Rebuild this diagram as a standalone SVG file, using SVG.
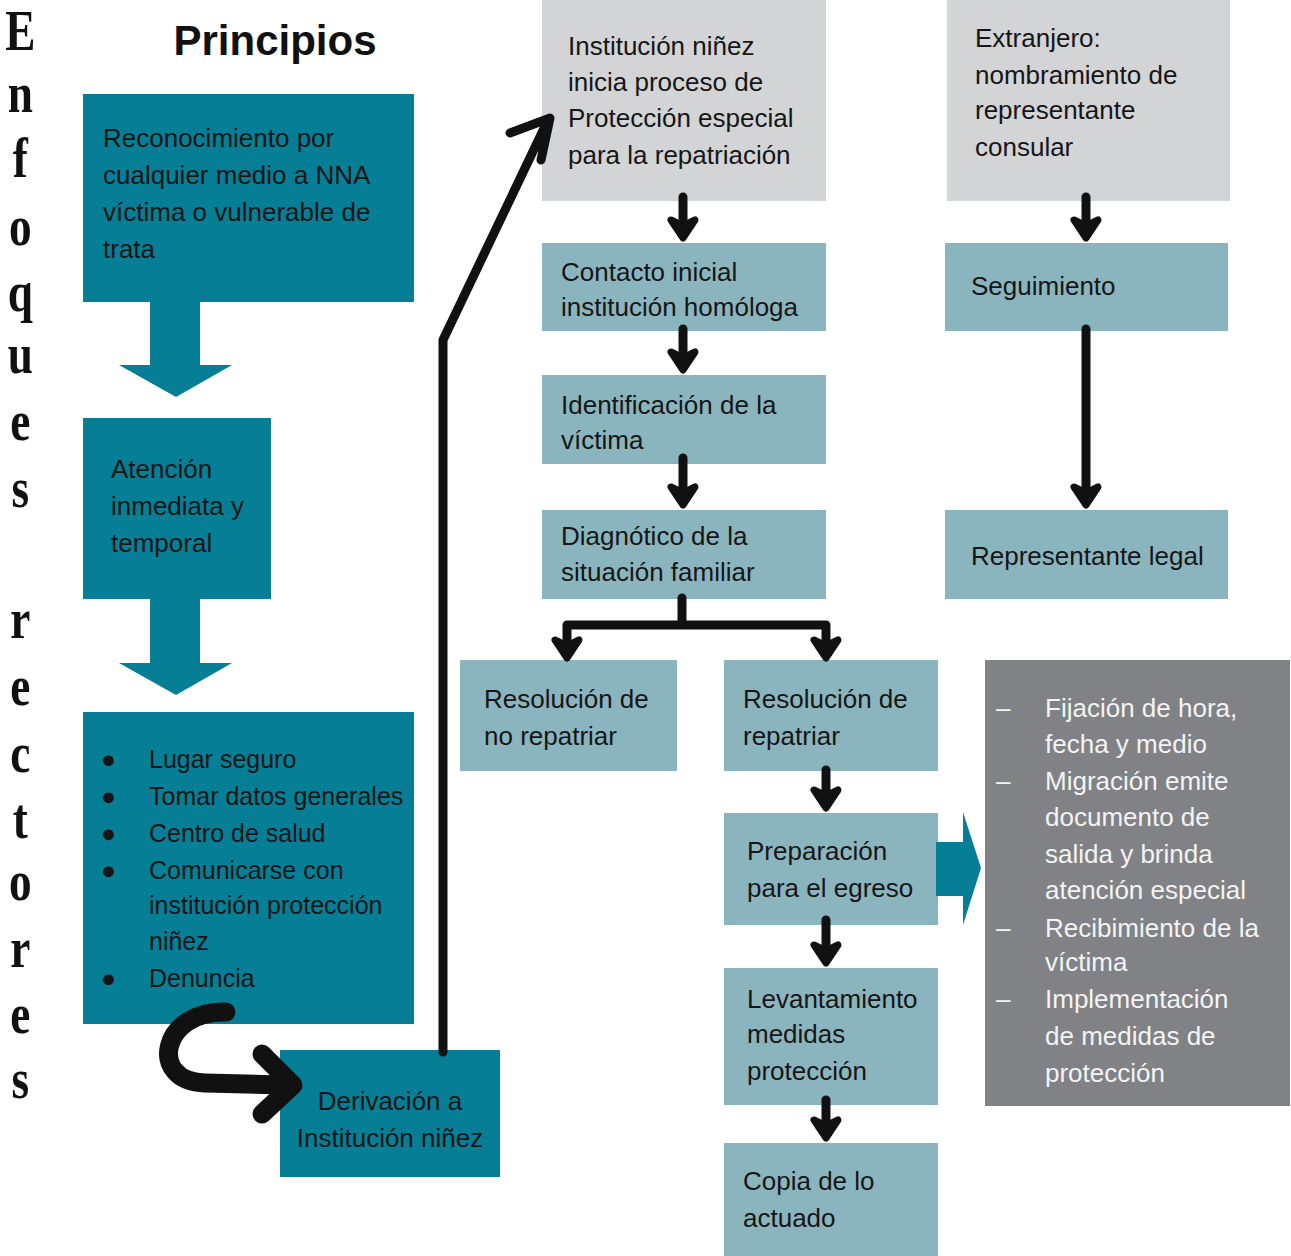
<svg xmlns="http://www.w3.org/2000/svg" width="1291" height="1256" viewBox="0 0 1291 1256">
<style>
.t{font-family:"Liberation Sans",Arial,sans-serif;font-size:26px;fill:#161616}
.s{font-size:25px}
.tw{font-family:"Liberation Sans",Arial,sans-serif;font-size:26px;fill:#f4f4f4}
.dk{fill:#067e95}
.lt{fill:#8bb5be}
.gr{fill:#d3d4d6}
.dg{fill:#808285}
.ln{fill:none;stroke:#111;stroke-width:9;stroke-linecap:round;stroke-linejoin:round}
.hd{fill:#111;stroke:#111;stroke-width:7;stroke-linejoin:round}
</style>
<rect width="1291" height="1256" fill="#fff"/>
<g id="vertical-title" transform="scale(0.78,1)">
<text font-family="'Liberation Serif','Times New Roman',serif" font-size="58" font-weight="bold" fill="#111" text-anchor="middle">
<tspan x="26" y="50">E</tspan><tspan x="26" y="112">n</tspan><tspan x="26" y="177">f</tspan><tspan x="26" y="245">o</tspan><tspan x="26" y="311">q</tspan><tspan x="26" y="373">u</tspan><tspan x="26" y="440">e</tspan><tspan x="26" y="507">s</tspan><tspan x="26" y="638">r</tspan><tspan x="26" y="705">e</tspan><tspan x="26" y="772">c</tspan><tspan x="26" y="838">t</tspan><tspan x="26" y="900">o</tspan><tspan x="26" y="967">r</tspan><tspan x="26" y="1033">e</tspan><tspan x="26" y="1098">s</tspan>
</text>
</g>
<g id="title"><text x="275" y="55" text-anchor="middle" font-family="'Liberation Sans',Arial,sans-serif" font-size="42" font-weight="bold" fill="#111">Principios</text></g>

<g id="n-reconocimiento"><rect class="dk" x="83" y="94" width="331" height="208"/>
<text class="t"><tspan x="103" y="147">Reconocimiento por</tspan><tspan x="103" y="184">cualquier medio a NNA</tspan><tspan x="103" y="221">víctima o vulnerable de</tspan><tspan x="103" y="258">trata</tspan></text></g>
<g id="n-atencion"><rect class="dk" x="83" y="418" width="188" height="181"/>
<text class="t"><tspan x="111" y="478">Atención</tspan><tspan x="111" y="515">inmediata y</tspan><tspan x="111" y="552">temporal</tspan></text></g>
<g id="n-acciones"><rect class="dk" x="83" y="712" width="331" height="312"/>
<text class="t s"><tspan x="101" y="768">●</tspan><tspan x="149" y="768">Lugar seguro</tspan><tspan x="101" y="805">●</tspan><tspan x="149" y="805">Tomar datos generales</tspan><tspan x="101" y="842">●</tspan><tspan x="149" y="842">Centro de salud</tspan><tspan x="101" y="879">●</tspan><tspan x="149" y="879">Comunicarse con</tspan><tspan x="149" y="914">institución protección</tspan><tspan x="149" y="950">niñez</tspan><tspan x="101" y="987">●</tspan><tspan x="149" y="987">Denuncia</tspan></text></g>
<g id="n-derivacion"><rect class="dk" x="280" y="1050" width="220" height="127"/>
<text class="t" text-anchor="middle"><tspan x="390" y="1110">Derivación a</tspan><tspan x="390" y="1147">Institución niñez</tspan></text></g>

<g id="n-institucion"><rect class="gr" x="542" y="0" width="284" height="201"/>
<text class="t"><tspan x="568" y="55">Institución niñez</tspan><tspan x="568" y="91">inicia proceso de</tspan><tspan x="568" y="127">Protección especial</tspan><tspan x="568" y="164">para la repatriación</tspan></text></g>
<g id="n-contacto"><rect class="lt" x="542" y="243" width="284" height="88"/>
<text class="t"><tspan x="561" y="281">Contacto inicial</tspan><tspan x="561" y="316">institución homóloga</tspan></text></g>
<g id="n-identificacion"><rect class="lt" x="542" y="375" width="284" height="89"/>
<text class="t"><tspan x="561" y="414">Identificación de la</tspan><tspan x="561" y="449">víctima</tspan></text></g>
<g id="n-diagnostico"><rect class="lt" x="542" y="510" width="284" height="89"/>
<text class="t"><tspan x="561" y="545">Diagnótico de la</tspan><tspan x="561" y="581">situación familiar</tspan></text></g>
<g id="n-no-repatriar"><rect class="lt" x="460" y="660" width="217" height="111"/>
<text class="t"><tspan x="484" y="708">Resolución de</tspan><tspan x="484" y="745">no repatriar</tspan></text></g>
<g id="n-repatriar"><rect class="lt" x="724" y="660" width="214" height="111"/>
<text class="t"><tspan x="743" y="708">Resolución de</tspan><tspan x="743" y="745">repatriar</tspan></text></g>
<g id="n-preparacion"><rect class="lt" x="724" y="813" width="214" height="112"/>
<text class="t"><tspan x="747" y="860">Preparación</tspan><tspan x="747" y="897">para el egreso</tspan></text></g>
<g id="n-levantamiento"><rect class="lt" x="724" y="968" width="214" height="137"/>
<text class="t"><tspan x="747" y="1008">Levantamiento</tspan><tspan x="747" y="1043">medidas</tspan><tspan x="747" y="1080">protección</tspan></text></g>
<g id="n-copia"><rect class="lt" x="724" y="1143" width="214" height="113"/>
<text class="t"><tspan x="743" y="1190">Copia de lo</tspan><tspan x="743" y="1227">actuado</tspan></text></g>

<g id="n-extranjero"><rect class="gr" x="947" y="0" width="283" height="201"/>
<text class="t"><tspan x="975" y="47">Extranjero:</tspan><tspan x="975" y="84">nombramiento de</tspan><tspan x="975" y="119">representante</tspan><tspan x="975" y="156">consular</tspan></text></g>
<g id="n-seguimiento"><rect class="lt" x="945" y="243" width="283" height="88"/>
<text class="t"><tspan x="971" y="295">Seguimiento</tspan></text></g>
<g id="n-representante"><rect class="lt" x="945" y="510" width="283" height="89"/>
<text class="t"><tspan x="971" y="565">Representante legal</tspan></text></g>
<g id="n-pasos"><rect class="dg" x="985" y="660" width="305" height="446"/>
<text class="tw"><tspan x="996" y="717">–</tspan><tspan x="1045" y="717">Fijación de hora,</tspan><tspan x="1045" y="753">fecha y medio</tspan><tspan x="996" y="790">–</tspan><tspan x="1045" y="790">Migración emite</tspan><tspan x="1045" y="826">documento de</tspan><tspan x="1045" y="863">salida y brinda</tspan><tspan x="1045" y="899">atención especial</tspan><tspan x="996" y="937">–</tspan><tspan x="1045" y="937">Recibimiento de la</tspan><tspan x="1045" y="971">víctima</tspan><tspan x="996" y="1008">–</tspan><tspan x="1045" y="1008">Implementación</tspan><tspan x="1045" y="1045">de medidas de</tspan><tspan x="1045" y="1082">protección</tspan></text></g>

<defs>
<path id="ah" d="M-12 -20 L0 -14 L12 -20 L0 -2 Z"/>
</defs>
<g id="connectors">
<path class="dk" d="M150 302 H200 V365 H232 L176 397 L119 365 H150 Z"/>
<path class="dk" d="M150 599 H200 V663 H232 L176 695 L119 663 H150 Z"/>
<path class="dk" d="M936 842 H963 V812 L981 868 L963 925 V896 H936 Z"/>
<path class="ln" d="M683 197 V228 M682 598 V625 M567 625 H826 M567 625 V648 M826 625 V648 M683 329 V360 M683 458 V495 M826 770 V798 M826 920 V953 M826 1100 V1128 M1086 197 V228 M1086 329 V495"/>
<use href="#ah" class="hd" x="683" y="240"/>
<use href="#ah" class="hd" x="683" y="372"/>
<use href="#ah" class="hd" x="683" y="507"/>
<use href="#ah" class="hd" x="567" y="660"/>
<use href="#ah" class="hd" x="826" y="660"/>
<use href="#ah" class="hd" x="826" y="810"/>
<use href="#ah" class="hd" x="826" y="965"/>
<use href="#ah" class="hd" x="826" y="1140"/>
<use href="#ah" class="hd" x="1086" y="240"/>
<use href="#ah" class="hd" x="1086" y="507"/>
<path class="ln" d="M443 1052 V340 L548 120 M510 133 L550 118 L541 160"/>
<path fill="none" stroke="#111" stroke-width="19" stroke-linecap="round" stroke-linejoin="round" d="M226 1012 C160 1010 148 1082 205 1083 L282 1085 M262 1054 L293 1085 L262 1114"/>
</g>
</svg>
